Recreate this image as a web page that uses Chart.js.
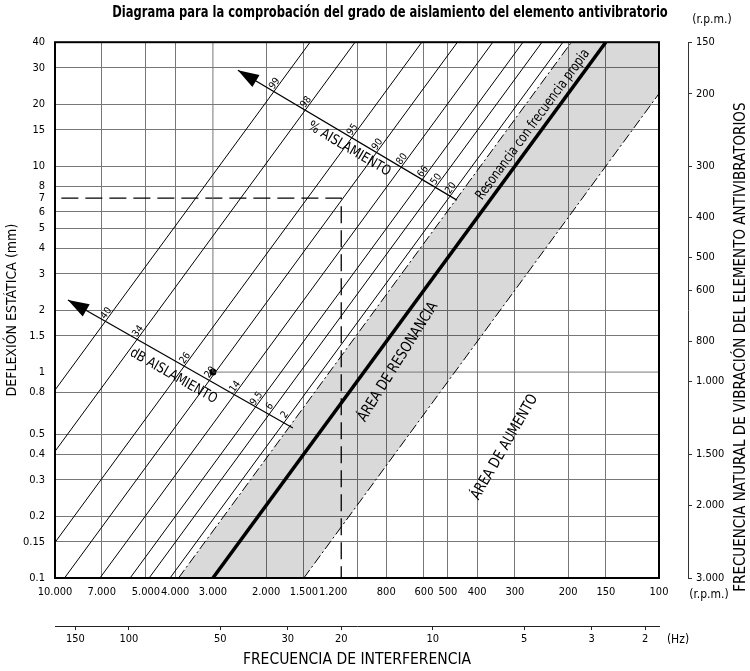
<!DOCTYPE html>
<html>
<head>
<meta charset="utf-8">
<script src="https://cdn.jsdelivr.net/npm/chart.js@4.4.1/dist/chart.umd.min.js"></script>
<style>
  body { margin: 0; background: #fff; }
  canvas { display: block; }
</style>
</head>
<body>
<canvas id="chart" width="750" height="671"></canvas>
<script>
// axis ticks
var rpmTicks = [10000, 7000, 5000, 4000, 3000, 2000, 1500, 1200, 1000, 800, 600, 500, 400, 300, 200, 150, 100];
var hzTicks = [150, 100, 50, 30, 20, 10, 5, 3, 2];
var mmTicks = [40, 30, 20, 15, 10, 8, 7, 6, 5, 4, 3, 2, 1.5, 1, 0.8, 0.5, 0.4, 0.3, 0.2, 0.15, 0.1];
var naturalRpmTicks = [150, 200, 300, 400, 500, 600, 800, 1000, 1500, 2000, 3000];

// isolation lines, given by the r.p.m. where each one meets 0.1 mm
var isoRpmAt01 = [28600, 20300, 12200, 9300, 7100, 5640, 4880, 4160];
var isoPercent = ['99', '98', '95', '90', '80', '66', '50', '20'];
var isoDb = ['40', '34', '26', '20', '14', '9.5', '6', '2'];

// resonance line and the limits of the resonance area (r.p.m. at 0.1 mm)
var resonanceRpmAt01 = 3000;
var bandRpmAt01 = [3900, 1500];

// scale arrows (head first), in r.p.m. / mm
var pctArrow = [{x: 2480, y: 29.2}, {x: 467, y: 6.84}];
var dbArrow = [{x: 9060, y: 2.24}, {x: 1630, y: 0.535}];

// worked examples
var examplePoint = {x: 3000, y: 1};
var exampleHz = 20;
var exampleMm = 7;

var FONT = "'Liberation Sans Narrow', 'Arial Narrow', 'DejaVu Sans Condensed', sans-serif";
var GRID = '#777';
var MM_MIN = 0.1, MM_MAX = 40;
var TITLE = 'Diagrama para la comprobación del grado de aislamiento del elemento antivibratorio';

Chart.defaults.font.family = FONT;
Chart.defaults.color = '#111';

function thousands(v) {
  return String(v).replace(/\B(?=(\d{3})+(?!\d))/g, '.');
}

// deflection goes with 1/rpm^2, so from 0.1 mm to 40 mm the rpm is divided by 20
function isoPoints(rpmAt01) {
  return [{x: rpmAt01, y: MM_MIN}, {x: rpmAt01 / 20, y: MM_MAX}];
}

var datasets = [];
function addLine(points, style) {
  datasets.push(Object.assign({
    data: points, showLine: true, pointRadius: 0, borderColor: '#000',
    borderWidth: 1, fill: false, order: 0
  }, style || {}));
  return datasets.length - 1;
}

var band0 = isoPoints(bandRpmAt01[0]), band1 = isoPoints(bandRpmAt01[1]);
addLine([band0[0], band0[1], band1[1], band1[0]], {
  fill: 'shape', backgroundColor: 'rgba(0,0,0,0.15)', borderColor: 'rgba(0,0,0,0)', borderWidth: 0, order: 10
});
addLine(band0, {borderDash: [10, 3, 2, 3]});
addLine(band1, {borderDash: [10, 3, 2, 3]});
var resIdx = addLine(isoPoints(resonanceRpmAt01), {borderWidth: 3.5});
var isoIdx = isoRpmAt01.map(function (r) { return addLine(isoPoints(r)); });
var pctIdx = addLine(pctArrow, {borderWidth: 1.2});
var dbIdx = addLine(dbArrow, {borderWidth: 1.2});
// grid lines that only run from the example point away from the axes
addLine([examplePoint, {x: rpmTicks[rpmTicks.length - 1], y: examplePoint.y}], {borderColor: GRID});
addLine([examplePoint, {x: examplePoint.x, y: MM_MAX}], {borderColor: GRID});
addLine([{x: 200, y: exampleMm}, {x: exampleHz, y: exampleMm}, {x: exampleHz, y: MM_MIN}],
  {xAxisID: 'xHz', borderDash: [17, 7], borderWidth: 1.3});
datasets.push({data: [examplePoint], showLine: false, pointRadius: 3.5, pointBackgroundColor: '#000', pointBorderWidth: 0});

function pt(meta, i) { return {x: meta.data[i].x, y: meta.data[i].y}; }

function intersect(p1, p2, p3, p4) {
  var d = (p2.x - p1.x) * (p4.y - p3.y) - (p2.y - p1.y) * (p4.x - p3.x);
  var t = ((p3.x - p1.x) * (p4.y - p3.y) - (p3.y - p1.y) * (p4.x - p3.x)) / d;
  return {x: p1.x + t * (p2.x - p1.x), y: p1.y + t * (p2.y - p1.y)};
}

function rotText(ctx, text, x, y, rad, size, squeeze, bold) {
  ctx.save();
  ctx.translate(x, y);
  ctx.rotate(rad);
  if (squeeze) ctx.scale(squeeze, 1);
  ctx.font = (bold ? 'bold ' : '') + size + 'px ' + FONT;
  ctx.textAlign = 'center';
  ctx.textBaseline = 'middle';
  ctx.fillStyle = '#000';
  ctx.fillText(text, 0, 0);
  ctx.restore();
}

var extras = {
  id: 'extras',
  afterDraw: function (chart) {
    var ctx = chart.ctx, a = chart.chartArea;
    var xs = chart.scales.x, ys = chart.scales.y, hz = chart.scales.xHz, yr = chart.scales.yRpm;
    ctx.save();
    ctx.strokeStyle = '#000';
    ctx.lineWidth = 2;
    ctx.strokeRect(a.left, a.top, a.right - a.left, a.bottom - a.top);

    rotText(ctx, TITLE, 390, 13, 0, 16, 0.8, true);

    var isoMeta = isoIdx.map(function (i) { return chart.getDatasetMeta(i); });
    var isoAng = 0;
    [[pctIdx, isoPercent, '% AISLAMIENTO', 0.534, 11], [dbIdx, isoDb, 'dB AISLAMIENTO', 0.5, 14]].forEach(function (cfg) {
      var m = chart.getDatasetMeta(cfg[0]);
      var head = pt(m, 0), tail = pt(m, 1);
      var ang = Math.atan2(tail.y - head.y, tail.x - head.x);
      // arrow head
      ctx.save();
      ctx.translate(head.x, head.y);
      ctx.rotate(ang);
      ctx.beginPath();
      ctx.moveTo(0, 0);
      ctx.lineTo(21, -7);
      ctx.lineTo(21, 7);
      ctx.closePath();
      ctx.fillStyle = '#000';
      ctx.fill();
      ctx.restore();
      // labels where the arrow crosses each line
      isoMeta.forEach(function (im, k) {
        var p0 = pt(im, 0), p1 = pt(im, 1);
        isoAng = Math.atan2(p1.y - p0.y, p1.x - p0.x);
        var c = intersect(head, tail, p0, p1);
        var dx = Math.cos(isoAng), dy = Math.sin(isoAng);
        rotText(ctx, cfg[1][k], c.x + dx * 7 + dy * 4, c.y + dy * 7 - dx * 4, isoAng, 10);
      });
      // scale name under the arrow
      var px = head.x + (tail.x - head.x) * cfg[3], py = head.y + (tail.y - head.y) * cfg[3];
      rotText(ctx, cfg[2], px - Math.sin(ang) * cfg[4], py + Math.cos(ang) * cfg[4], ang, 14, 0.92);
    });

    var rm = chart.getDatasetMeta(resIdx);
    var r0 = pt(rm, 0), r1 = pt(rm, 1);
    var t = 0.835, rx = r0.x + (r1.x - r0.x) * t, ry = r0.y + (r1.y - r0.y) * t;
    rotText(ctx, 'Resonancia con frecuencia propia', rx + Math.sin(isoAng) * 10, ry - Math.cos(isoAng) * 10, isoAng, 14, 0.86);

    rotText(ctx, 'ÁREA DE RESONANCIA', xs.getPixelForValue(731), ys.getPixelForValue(1.12), -58 * Math.PI / 180, 15, 0.9);
    rotText(ctx, 'ÁREA DE AUMENTO', xs.getPixelForValue(324), ys.getPixelForValue(0.432), -60 * Math.PI / 180, 15, 0.9);

    rotText(ctx, '(r.p.m.)', yr.left + 24, a.top - 22, 0, 12);
    rotText(ctx, '(r.p.m.)', yr.left + 21, xs.top + 17, 0, 12);
    rotText(ctx, '(Hz)', a.right + 19, hz.top + 14, 0, 12);
    rotText(ctx, 'FRECUENCIA NATURAL DE VIBRACIÓN DEL ELEMENTO ANTIVIBRATORIOS', yr.right - 9, (a.top + a.bottom) / 2 + 37, -Math.PI / 2, 15);
    ctx.restore();
  }
};

function setTicks(list) {
  return function (s) { s.ticks = list.map(function (v) { return {value: v}; }); };
}

new Chart(document.getElementById('chart'), {
  type: 'scatter',
  data: {datasets: datasets},
  plugins: [extras],
  options: {
    responsive: false,
    animation: false,
    events: [],
    layout: {padding: 0},
    plugins: {
      legend: {display: false},
      tooltip: {enabled: false},
      // reserves the title band; the squeezed title text is painted by the extras plugin
      title: {
        display: true,
        text: TITLE,
        color: 'rgba(0,0,0,0)',
        font: {size: 16, weight: 'bold'},
        padding: {top: 4, bottom: 19}
      }
    },
    scales: {
      x: {
        type: 'logarithmic', position: 'bottom', reverse: true, min: 100, max: 10000, weight: 0,
        afterBuildTicks: setTicks(rpmTicks),
        afterFit: function (s) { s.height = 48; },
        border: {display: false},
        grid: {
          drawTicks: false,
          color: function (c) { return c.tick && (c.tick.value === 1200 || c.tick.value === 3000) ? 'rgba(0,0,0,0)' : GRID; }
        },
        ticks: {
          autoSkip: false, maxRotation: 0, padding: 8, font: {size: 11}, color: '#000',
          callback: function (v) { return v === 1000 ? '' : thousands(v); }
        }
      },
      xHz: {
        type: 'logarithmic', axis: 'x', position: 'bottom', reverse: true, min: 1.8, max: 175, weight: 1,
        afterBuildTicks: setTicks(hzTicks),
        afterFit: function (s) { s.height = 45; },
        border: {display: true, color: '#222', width: 1},
        grid: {drawOnChartArea: false, drawTicks: true, tickLength: 4, color: '#222'},
        ticks: {autoSkip: false, maxRotation: 0, padding: 3, font: {size: 11}, color: '#000',
          callback: function (v) { return String(v); }},
        title: {display: true, text: 'FRECUENCIA DE INTERFERENCIA', color: '#000', font: {size: 15.5}, padding: {top: 0, bottom: 2}}
      },
      y: {
        type: 'logarithmic', position: 'left', min: MM_MIN, max: MM_MAX,
        afterBuildTicks: setTicks(mmTicks),
        afterFit: function (s) { s.width = 55; },
        border: {display: false},
        grid: {
          drawTicks: false,
          color: function (c) { return c.tick && (c.tick.value === 7 || c.tick.value === 1) ? 'rgba(0,0,0,0)' : GRID; }
        },
        ticks: {autoSkip: false, padding: 10, font: {size: 11}, color: '#000',
          callback: function (v) { return String(v); }},
        title: {display: true, text: 'DEFLEXIÓN ESTÁTICA (mm)', color: '#000', font: {size: 14}, padding: {top: 4, bottom: 0}}
      },
      yGap: {
        type: 'linear', position: 'right', weight: 0,
        grid: {display: false}, border: {display: false}, ticks: {display: false},
        afterFit: function (s) { s.width = 29; }
      },
      yRpm: {
        type: 'logarithmic', position: 'right', weight: 1, reverse: true, min: 150, max: 3000,
        afterBuildTicks: setTicks(naturalRpmTicks),
        afterFit: function (s) { s.width = 62; },
        border: {display: true, color: '#333', width: 1},
        grid: {drawOnChartArea: false, drawTicks: true, tickLength: 4, color: '#333'},
        ticks: {autoSkip: false, padding: 4, font: {size: 11}, color: '#000',
          callback: function (v) { return thousands(v); }}
      }
    }
  }
});
</script>
</body>
</html>
